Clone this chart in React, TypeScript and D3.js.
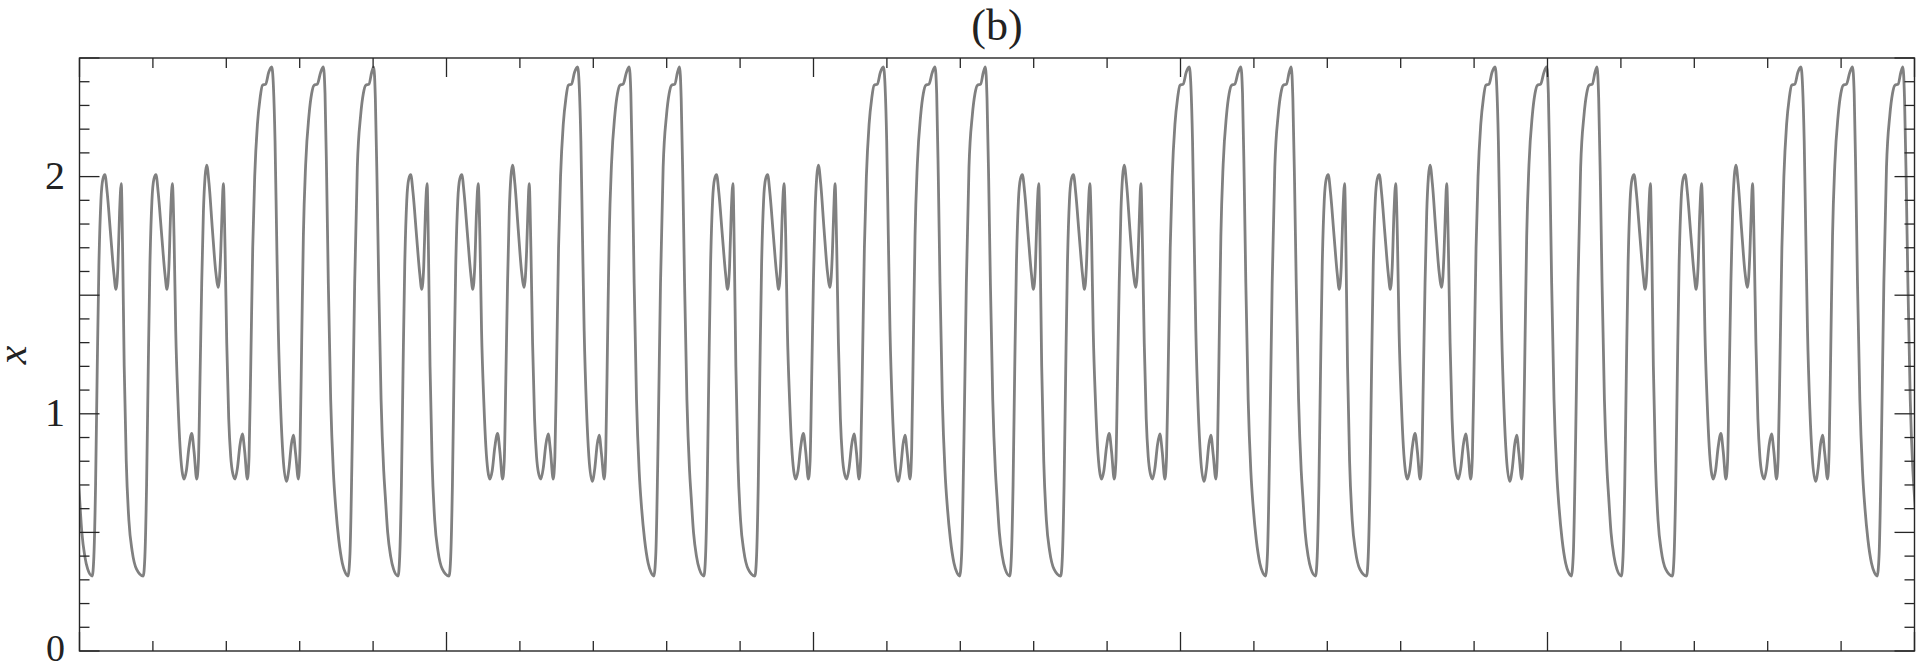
import React from "react";
import * as d3 from "d3";

// One period of the periodic orbit.
// periodT: time offset inside the period (x-axis tick units), periodX: value x.
const periodT = [
  0.0, 0.022, 0.045, 0.068, 0.1, 0.136, 0.158, 0.19, 0.23, 0.27, 0.331,
  0.354, 0.377, 0.4, 0.422, 0.45, 0.477, 0.504, 0.536, 0.581, 0.627, 0.654,
  0.681, 0.704, 0.727, 0.745, 0.767, 0.795, 0.831, 0.876, 0.935, 1.026,
  1.049, 1.072, 1.095, 1.117, 1.145, 1.172, 1.2, 1.231, 1.276, 1.322, 1.35,
  1.376, 1.4, 1.423, 1.446, 1.469, 1.5, 1.528, 1.555, 1.582, 1.614, 1.65,
  1.687, 1.719, 1.755, 1.778, 1.8, 1.823, 1.846, 1.869, 1.891, 1.923, 1.968,
  2.014, 2.05, 2.082, 2.1, 2.118, 2.141, 2.164, 2.191, 2.218, 2.245, 2.277,
  2.309, 2.345, 2.377, 2.409, 2.445, 2.468, 2.491, 2.518, 2.545, 2.582,
  2.618, 2.65, 2.695, 2.736, 2.777, 2.8, 2.822, 2.844, 2.867, 2.899, 2.931,
  2.976, 3.012, 3.044, 3.071, 3.103, 3.14, 3.162, 3.185, 3.208, 3.239,
  3.285, 3.321, 3.353, 3.398, 3.444, 3.48, 3.503, 3.525, 3.548, 3.58, 3.616,
  3.65, 3.69, 3.739, 3.78, 3.816, 3.843, 3.875, 3.907, 3.943, 3.989, 4.025,
  4.057, 4.102, 4.139,
];
const periodX = [
  2.462, 2.33, 1.98, 1.55, 1.06, 0.76, 0.65, 0.5, 0.4, 0.345, 0.316,
  0.4, 0.7, 1.2, 1.62, 1.9, 1.99, 2.008, 1.93, 1.76, 1.59, 1.525,
  1.62, 1.85, 1.97, 1.7, 1.2, 0.8, 0.55, 0.42, 0.345, 0.316,
  0.4, 0.7, 1.2, 1.62, 1.9, 1.99, 2.008, 1.93, 1.76, 1.59, 1.525,
  1.62, 1.85, 1.97, 1.75, 1.35, 1.05, 0.86, 0.76, 0.725, 0.76, 0.86,
  0.917, 0.84, 0.725, 0.8, 1.15, 1.55, 1.85, 2.0, 2.048, 1.97, 1.78,
  1.6, 1.533, 1.68, 1.85, 1.97, 1.7, 1.3, 0.98, 0.82, 0.75, 0.725,
  0.77, 0.87, 0.915, 0.84, 0.725, 0.82, 1.2, 1.7, 2.0, 2.22,
  2.33, 2.385, 2.39, 2.44, 2.462, 2.38, 2.15, 1.75, 1.35, 1.02, 0.82,
  0.715, 0.77, 0.87, 0.91, 0.83, 0.725, 0.85, 1.3, 1.75, 2.05,
  2.26, 2.35, 2.385, 2.39, 2.44, 2.462, 2.35, 2.0, 1.55, 1.06, 0.76,
  0.6, 0.47, 0.37, 0.33, 0.316, 0.41, 0.9, 1.55, 2.04, 2.26, 2.35,
  2.385, 2.39, 2.44,
];
const periodLength = 25 / 6; // six repetitions across the axis
const phaseOffset = 0.158; // phase of the orbit at the left edge
const periodCount = 7;

const xDomain = [0, 25];
const yDomain = [0, 2.5];
const yTickLabels = [0, 1, 2];
const title = "(b)";
const yLabel = "x";

const W = 1920;
const H = 666;
const M = { left: 79.5, right: 1914.5, top: 58, bottom: 651 };

export default function App() {
  const xs = d3.scaleLinear().domain(xDomain).range([M.left, M.right]);
  const ys = d3.scaleLinear().domain(yDomain).range([M.bottom, M.top]);

  const series: [number, number][] = [];
  for (let k = 0; k < periodCount; k++) {
    for (let i = 0; i < periodT.length; i++) {
      const t = periodT[i] - phaseOffset + k * periodLength;
      if (t >= -0.4 && t <= 25.4) series.push([t, periodX[i]]);
    }
  }

  const line = d3
    .line<[number, number]>()
    .x((d) => xs(d[0]))
    .y((d) => ys(d[1]))
    .curve(d3.curveMonotoneX);

  const xTicks = d3.range(0, 26, 1);
  const yTicks = d3.range(0, 26, 1).map((v) => v / 10);
  const axisColor = "#262626";
  const serif = "'Liberation Serif', 'DejaVu Serif', serif";

  return (
    <svg
      width={W}
      height={H}
      style={{ position: "absolute", left: 0, top: 0, display: "block", background: "#fff" }}
    >
      <defs>
        <clipPath id="plotClip">
          <rect x={M.left} y={M.top} width={M.right - M.left} height={M.bottom - M.top} />
        </clipPath>
      </defs>
      <rect x={0} y={0} width={W} height={H} fill="#fff" />

      <path
        d={line(series) || ""}
        fill="none"
        stroke="#808080"
        strokeWidth={2.8}
        strokeLinejoin="round"
        clipPath="url(#plotClip)"
      />

      {/* x ticks top & bottom */}
      {xTicks.map((t) => {
        const len = t % 5 === 0 ? 19 : 10;
        const x = xs(t);
        return (
          <g key={"xt" + t} stroke={axisColor} strokeWidth={1.3}>
            <line x1={x} x2={x} y1={M.bottom} y2={M.bottom - len} />
            <line x1={x} x2={x} y1={M.top} y2={M.top + len} />
          </g>
        );
      })}

      {/* y ticks left & right */}
      {yTicks.map((v, i) => {
        const len = i % 5 === 0 ? 20 : 10;
        const y = ys(v);
        return (
          <g key={"yt" + i} stroke={axisColor} strokeWidth={1.3}>
            <line x1={M.left} x2={M.left + len} y1={y} y2={y} />
            <line x1={M.right} x2={M.right - len} y1={y} y2={y} />
          </g>
        );
      })}

      {/* frame */}
      <rect
        x={M.left}
        y={M.top}
        width={M.right - M.left}
        height={M.bottom - M.top}
        fill="none"
        stroke={axisColor}
        strokeWidth={1.4}
      />

      {/* y tick labels */}
      {yTickLabels.map((v) => (
        <text
          key={"yl" + v}
          x={65}
          y={ys(v) + (v === 0 ? 10 : 12)}
          textAnchor="end"
          fontFamily={serif}
          fontSize={v === 0 ? 38 : 40}
          fill="#222"
        >
          {v}
        </text>
      ))}

      {/* y label */}
      <text
        transform={`translate(26,355) rotate(-90)`}
        textAnchor="middle"
        fontFamily={serif}
        fontStyle="italic"
        fontSize={42}
        fill="#222"
      >
        {yLabel}
      </text>

      {/* title */}
      <text
        x={(M.left + M.right) / 2}
        y={40}
        textAnchor="middle"
        fontFamily={serif}
        fontSize={44}
        fill="#222"
      >
        {title}
      </text>
    </svg>
  );
}
